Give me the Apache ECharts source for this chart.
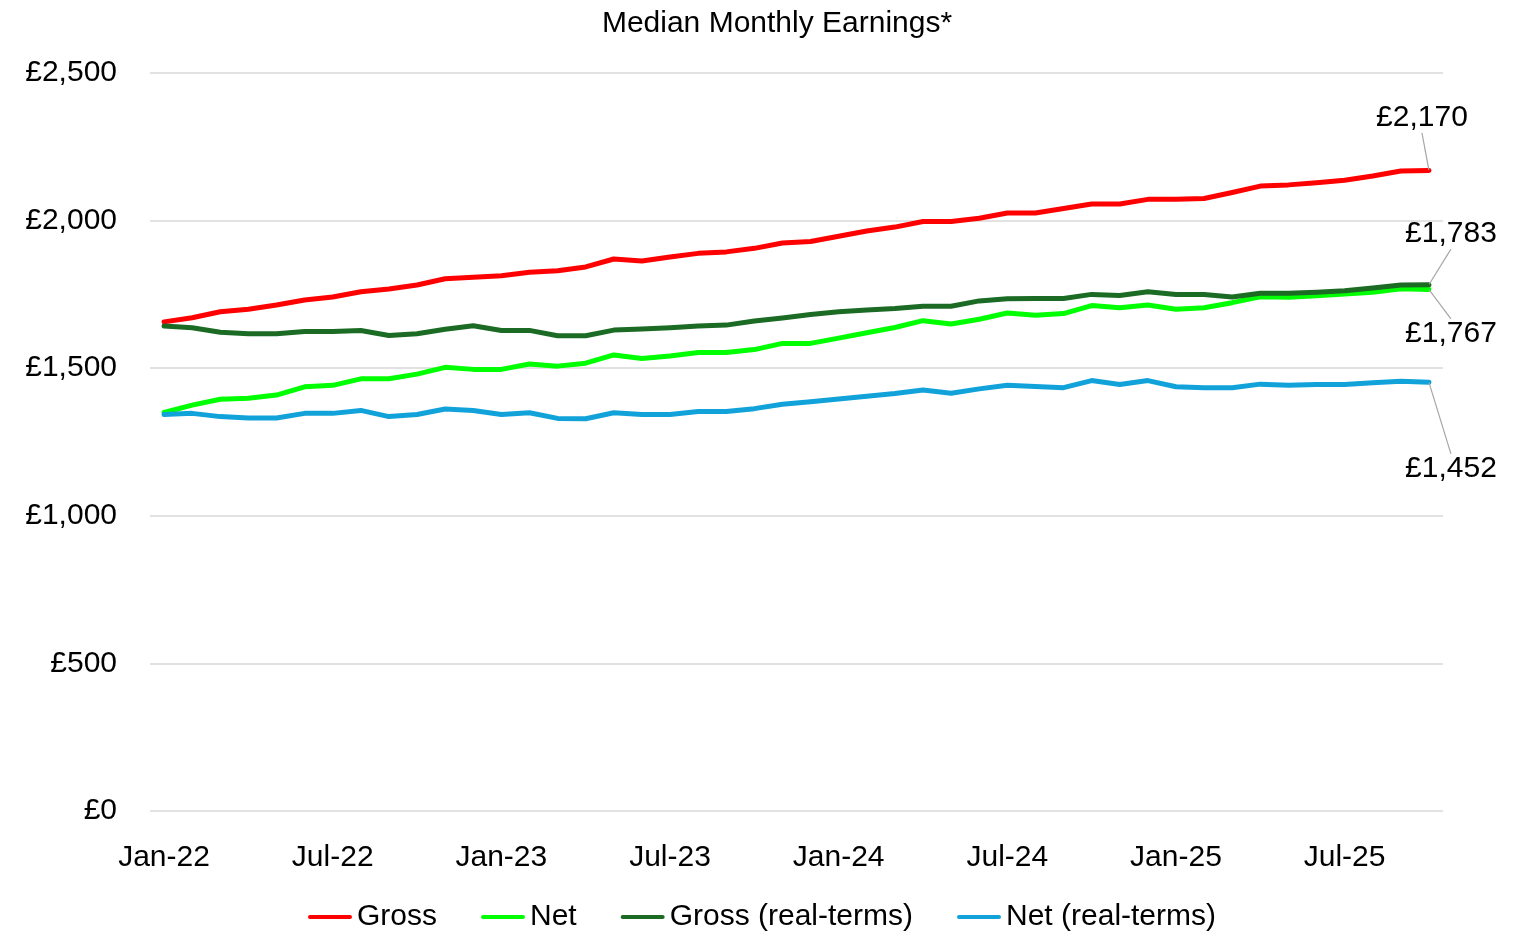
<!DOCTYPE html>
<html>
<head>
<meta charset="utf-8">
<script src="https://cdn.jsdelivr.net/npm/echarts@6/dist/echarts.min.js"></script>
<style>
html,body{margin:0;padding:0;background:#fff;}
#chart{width:1524px;height:936px;}
</style>
</head>
<body>
<div id="chart"></div>
<script>
const categories = [
  'Jan-22','Feb-22','Mar-22','Apr-22','May-22','Jun-22','Jul-22','Aug-22','Sep-22','Oct-22','Nov-22','Dec-22',
  'Jan-23','Feb-23','Mar-23','Apr-23','May-23','Jun-23','Jul-23','Aug-23','Sep-23','Oct-23','Nov-23','Dec-23',
  'Jan-24','Feb-24','Mar-24','Apr-24','May-24','Jun-24','Jul-24','Aug-24','Sep-24','Oct-24','Nov-24','Dec-24',
  'Jan-25','Feb-25','Mar-25','Apr-25','May-25','Jun-25','Jul-25','Aug-25','Sep-25','Oct-25'
];
const gross = [1657,1671,1691,1700,1714,1731,1741,1759,1768,1782,1803,1808,
  1813,1825,1830,1843,1870,1863,1877,1889,1894,1906,1924,1929,
  1947,1965,1978,1997,1997,2008,2026,2026,2041,2056,2056,2072,
  2072,2075,2095,2117,2121,2128,2137,2151,2168,2170];
const net = [1350,1375,1395,1398,1409,1437,1442,1464,1464,1480,1503,1496,
  1496,1514,1507,1517,1545,1533,1541,1553,1553,1563,1584,1584,
  1602,1620,1638,1661,1650,1666,1687,1679,1685,1712,1705,1714,
  1700,1705,1722,1742,1740,1745,1751,1757,1769,1767];
const grossReal = [1643,1637,1622,1617,1617,1624,1624,1628,1611,1617,1632,1644,
  1628,1628,1610,1610,1629,1633,1637,1643,1646,1660,1670,1682,
  1691,1697,1702,1710,1710,1728,1735,1736,1736,1750,1746,1759,
  1750,1750,1741,1754,1754,1757,1762,1772,1782,1783];
const netReal = [1343,1347,1336,1331,1331,1347,1347,1357,1336,1343,1362,1357,
  1343,1349,1330,1329,1349,1343,1343,1353,1353,1363,1378,1386,
  1396,1405,1414,1426,1415,1430,1442,1438,1434,1458,1445,1458,
  1437,1434,1434,1446,1442,1445,1445,1451,1456,1452];
const yTicks = [0, 500, 1000, 1500, 2000, 2500];
const seriesNames = ['Gross', 'Net', 'Gross (real-terms)', 'Net (real-terms)'];

const FONT = 'Liberation Sans, Arial, sans-serif';
const fmt = v => '£' + Math.round(v).toLocaleString('en-GB');
const ICON = 'path://M2,0 L42,0 A2,2 0 0 1 42,4 L2,4 A2,2 0 0 1 2,0 Z';

function withEndLabel(arr, pos) {
  return arr.map((v, i) => {
    if (i !== arr.length - 1) return v;
    return {
      value: v,
      symbol: 'circle',
      symbolSize: 1,
      label: {
        show: true,
        position: pos,
        distance: 5,
        formatter: p => fmt(p.value),
        color: '#000',
        fontSize: 30,
        fontFamily: FONT
      }
    };
  });
}

function mkSeries(name, arr, color, pos, dx, dy) {
  return {
    name: name,
    type: 'line',
    data: withEndLabel(arr, pos),
    symbol: 'none',
    showSymbol: true,
    lineStyle: { color: color, width: 5, cap: 'round', join: 'round' },
    itemStyle: { color: color },
    labelLine: { show: true, lineStyle: { color: '#a6a6a6', width: 1.2 } },
    labelLayout: { dx: dx, dy: dy },
    animation: false,
    z: 3
  };
}

const chart = echarts.init(document.getElementById('chart'));
const colors = ['#ff0000', '#00ff00', '#1b6b24', '#12a2da'];

chart.setOption({
  backgroundColor: '#ffffff',
  animation: false,
  title: {
    text: 'Median Monthly Earnings*',
    left: 777,
    textAlign: 'center',
    top: 9,
    padding: 0,
    textStyle: { fontSize: 30, fontWeight: 'normal', color: '#000', fontFamily: FONT }
  },
  legend: {
    data: seriesNames.map(n => ({ name: n, icon: ICON })),
    left: 'center',
    top: 902,
    itemWidth: 44,
    itemHeight: 5,
    itemGap: 44,
    padding: 0,
    textStyle: { fontSize: 30, color: '#000', fontFamily: FONT }
  },
  grid: { left: 150, right: 81, top: 73, bottom: 125, containLabel: false },
  xAxis: {
    type: 'category',
    data: categories,
    boundaryGap: true,
    axisLine: { show: false },
    axisTick: { show: false },
    axisLabel: {
      interval: 5,
      margin: 32,
      fontSize: 30,
      color: '#000',
      fontFamily: FONT
    },
    splitLine: { show: false }
  },
  yAxis: {
    type: 'value',
    min: yTicks[0],
    max: yTicks[yTicks.length - 1],
    interval: 500,
    axisLine: { show: false },
    axisTick: { show: false },
    axisLabel: {
      margin: 33,
      fontSize: 30,
      color: '#000',
      fontFamily: FONT,
      formatter: v => fmt(v)
    },
    splitLine: { lineStyle: { color: '#d9d9d9', width: 1.5 } }
  },
  series: [
    mkSeries(seriesNames[0], gross, colors[0], 'top', -7, -32),
    mkSeries(seriesNames[1], net, colors[1], 'bottom', 22, 24),
    mkSeries(seriesNames[2], grossReal, colors[2], 'top', 22, -30),
    mkSeries(seriesNames[3], netReal, colors[3], 'bottom', 22, 66)
  ]
});
</script>
</body>
</html>
